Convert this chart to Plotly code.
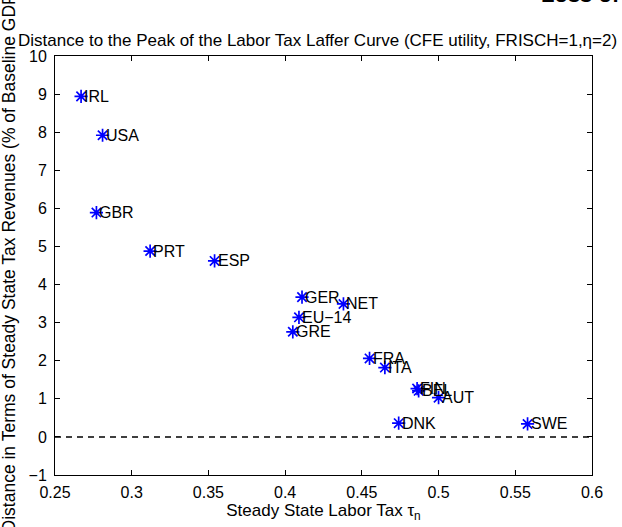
import plotly.graph_objects as go

countries = ["IRL", "USA", "GBR", "PRT", "ESP", "GER", "NET", "EU\u221214", "GRE",
             "FRA", "ITA", "FIN", "BEL", "AUT", "DNK", "SWE"]
labor_tax = [0.267, 0.281, 0.277, 0.312, 0.354, 0.411, 0.438, 0.409, 0.405,
             0.455, 0.465, 0.486, 0.487, 0.500, 0.474, 0.558]
distance = [8.94, 7.92, 5.89, 4.88, 4.62, 3.67, 3.49, 3.14, 2.76,
            2.06, 1.82, 1.27, 1.21, 1.03, 0.36, 0.34]

x_range = [0.25, 0.6]
y_range = [-1, 10]
x_ticks = [0.25, 0.3, 0.35, 0.4, 0.45, 0.5, 0.55, 0.6]
y_ticks = list(range(-1, 11))

FONT = "Liberation Sans, Arial, Helvetica, sans-serif"

fig = go.Figure()
fig.add_trace(go.Scatter(
    x=labor_tax, y=distance, mode="markers",
    marker=dict(symbol="asterisk-open", size=11, color="#0000FF",
                line=dict(color="#0000FF", width=1.7)),
    showlegend=False, hoverinfo="skip"))

annotations = []
for c, xv, yv in zip(countries, labor_tax, distance):
    annotations.append(dict(x=xv, y=yv, xref="x", yref="y", text=c, showarrow=False,
                            xanchor="left", yanchor="middle", xshift=1,
                            font=dict(family=FONT, size=16, color="black")))

# y axis label (rotated)
annotations.append(dict(x=0, y=0.512, xref="paper", yref="paper",
                        text="Distance in Terms of Steady State Tax Revenues (% of Baseline GDP)",
                        textangle=-90, showarrow=False, xanchor="center", yanchor="middle",
                        xshift=-46, font=dict(family=FONT, size=17.5, color="black")))
# cropped heading at the very top right
annotations.append(dict(x=1.135, y=1.113, xref="paper", yref="paper",
                        text="<b>Loss of Tax</b>", showarrow=False,
                        xanchor="right", yanchor="bottom",
                        font=dict(family=FONT, size=22, color="black")))

fig.update_layout(
    width=622, height=527,
    margin=dict(l=55, r=30, t=56, b=50),
    paper_bgcolor="white", plot_bgcolor="white",
    font=dict(family=FONT, size=16, color="black"),
    title=dict(text="Distance to the Peak of the Labor Tax Laffer Curve (CFE utility, FRISCH=1,\u03b7=2)",
               x=0.489, xref="paper", xanchor="center",
               y=1 - 40 / 527, yref="container", yanchor="middle",
               font=dict(family=FONT, size=17, color="black")),
    annotations=annotations,
    shapes=[dict(type="line", xref="paper", yref="y", x0=0, x1=1, y0=0, y1=0,
                 line=dict(color="black", width=1.5, dash="6px,5px"))],
)

fig.update_xaxes(range=x_range, tickvals=x_ticks, ticktext=[f"{t:g}" for t in x_ticks],
                 ticks="inside", ticklen=5, tickcolor="black", showline=True,
                 linecolor="black", linewidth=1, mirror="ticks", showgrid=False,
                 zeroline=False, ticklabelstandoff=3,
                 tickfont=dict(family=FONT, size=16, color="black"),
                 title=dict(text="Steady State Labor Tax \u03c4<sub>n</sub>", standoff=2,
                            font=dict(family=FONT, size=17, color="black")))
fig.update_yaxes(range=y_range, tickvals=y_ticks,
                 ticks="inside", ticklen=5, tickcolor="black", showline=True,
                 linecolor="black", linewidth=1, mirror="ticks", showgrid=False,
                 zeroline=False, ticklabelstandoff=4,
                 tickfont=dict(family=FONT, size=16, color="black"))

fig.write_html("out.html", config={"displayModeBar": False},
               post_script="document.body.style.margin='0px';document.body.style.overflow='hidden';")
